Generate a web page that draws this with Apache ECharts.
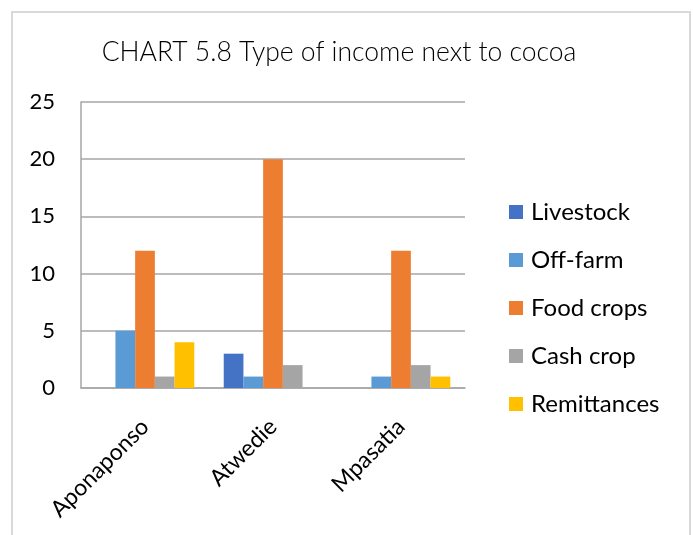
<!DOCTYPE html>
<html>
<head>
<meta charset="utf-8">
<script src="https://cdn.jsdelivr.net/npm/echarts@6/dist/echarts.min.js"></script>
<style>
  html, body { margin: 0; padding: 0; background: #fff; }
  #chart { width: 693px; height: 535px; }
</style>
</head>
<body>
<div id="chart"></div>
<script>
// Villages surveyed
const villages = ['Aponaponso', 'Atwedie', 'Mpasatia'];

// Number of respondents per income type, by village
const livestock   = [0, 3, 0];
const offFarm     = [5, 1, 1];
const foodCrops   = [12, 20, 12];
const cashCrop    = [1, 2, 2];
const remittances = [4, 0, 1];

// Y axis range
const yMin = 0, yMax = 25, yStep = 5;

const FONT = 'Lato, "Open Sans", sans-serif';

const seriesDefs = [
  { name: 'Livestock',   data: livestock,   color: '#4472C4' },
  { name: 'Off-farm',    data: offFarm,     color: '#5B9BD5' },
  { name: 'Food crops',  data: foodCrops,   color: '#ED7D31' },
  { name: 'Cash crop',   data: cashCrop,    color: '#A5A5A5' },
  { name: 'Remittances', data: remittances, color: '#FFC000' }
];

const chart = echarts.init(document.getElementById('chart'), null, { renderer: 'canvas' });

chart.setOption({
  backgroundColor: '#ffffff',
  animation: false,
  graphic: [{
    type: 'rect',
    shape: { x: 12, y: 12, width: 678, height: 540 },
    style: { fill: 'none', stroke: '#d9d9d9', lineWidth: 2 },
    silent: true
  }],
  title: {
    text: 'CHART 5.8 Type of income next to cocoa',
    left: 334,
    textAlign: 'center',
    top: 34,
    textStyle: { fontFamily: FONT, fontWeight: 300, fontSize: 26.5, color: '#000' }
  },
  legend: {
    orient: 'vertical',
    left: 504,
    top: 195,
    itemWidth: 14,
    itemHeight: 14,
    itemGap: 24,
    icon: 'rect',
    textStyle: { fontFamily: FONT, fontSize: 24, color: '#000', padding: [0, 0, 0, 3], lineHeight: 24 },
    data: seriesDefs.map(s => s.name)
  },
  grid: { left: 81, right: 228, top: 102, bottom: 147, containLabel: false },
  xAxis: {
    type: 'category',
    data: villages,
    axisLine: { show: true, lineStyle: { color: '#a6a6a6', width: 1.5 } },
    axisTick: { show: false },
    axisLabel: {
      rotate: 45,
      margin: 35,
      interval: 0,
      fontFamily: FONT,
      fontSize: 23,
      color: '#000'
    }
  },
  yAxis: {
    type: 'value',
    min: yMin,
    max: yMax,
    interval: yStep,
    axisLine: { show: true, lineStyle: { color: '#a6a6a6', width: 1.5 } },
    axisTick: { show: false },
    splitLine: { lineStyle: { color: '#a6a6a6', width: 1.5 } },
    axisLabel: { margin: 26, fontFamily: FONT, fontSize: 22, color: '#000' }
  },
  series: seriesDefs.map(s => ({
    name: s.name,
    type: 'bar',
    data: s.data,
    barGap: '0%',
    barCategoryGap: '23%',
    itemStyle: { color: s.color }
  }))
});
</script>
</body>
</html>
